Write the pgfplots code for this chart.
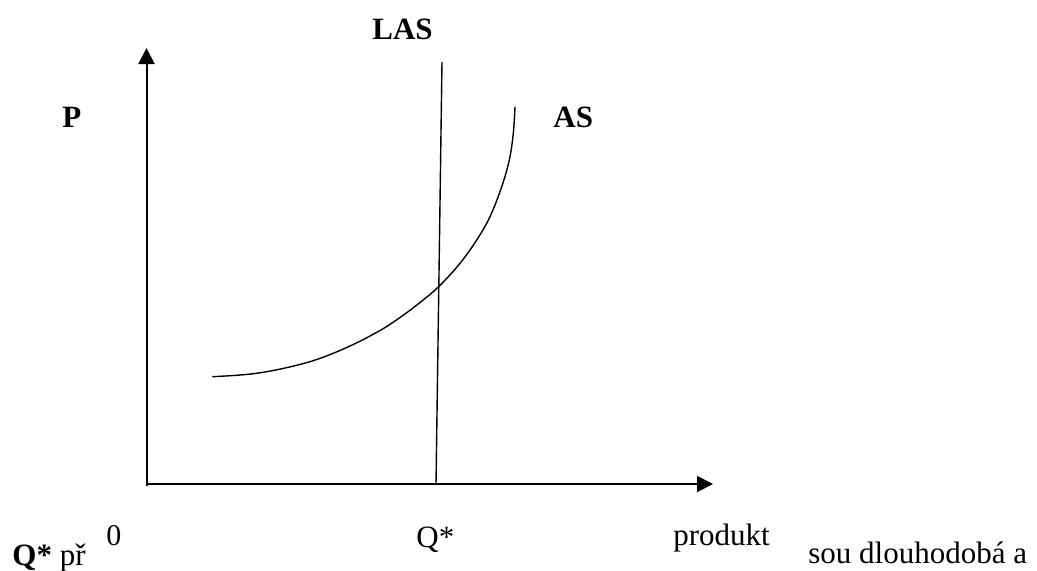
\documentclass[border=0pt]{standalone}
\usepackage{fontspec}
\setmainfont{Liberation Serif}
\usepackage{pgfplots}
\pgfplotsset{compat=1.18}
\usetikzlibrary{arrows.meta}
\begin{document}
\begin{tikzpicture}
\begin{axis}[
  scale only axis,
  width=518.5pt, height=285pt,
  xmin=0, xmax=1037, ymin=0, ymax=570,
  hide axis, clip=false,
]
% axes with arrows
\addplot[black, line width=1pt, -{Triangle[length=8pt,width=8pt]}] coordinates {(146.5,84) (146.5,522)};
\addplot[black, line width=1pt, -{Triangle[length=8pt,width=8pt]}] coordinates {(146,86) (713,86)};
% LAS
\addplot[black, line width=0.7pt] coordinates {(436,86) (442,508)};
% AS
\addplot[black, line width=0.7pt, smooth, tension=0.6] coordinates {
(212.3,193.3) (250,195.9) (283.3,201.6) (316.7,210.5) (350,224) (380,239.5)
(400,252.5) (420,267.5) (439.3,284) (460,306.7) (476.7,330) (490,353.3)
(501.7,383.3) (509.3,410) (513.3,436.7) (515,463.3)};
\coordinate (BL) at (axis cs:0,0);
\coordinate (TR) at (axis cs:1037,570);
\node[anchor=base west, inner sep=0pt, font=\fontsize{15.5}{18}\selectfont\bfseries] at (axis cs:372,531) {LAS};
\node[anchor=base west, inner sep=0pt, font=\fontsize{15.5}{18}\selectfont\bfseries] at (axis cs:62,443) {P};
\node[anchor=base west, inner sep=0pt, font=\fontsize{15.5}{18}\selectfont\bfseries] at (axis cs:553,443) {AS};
\node[anchor=base west, inner sep=0pt, font=\fontsize{15}{18}\selectfont] at (axis cs:106,25) {0};
\node[anchor=base west, inner sep=0pt, font=\fontsize{15.5}{18}\selectfont] at (axis cs:416,23) {Q*};
\node[anchor=base west, inner sep=0pt, font=\fontsize{15.5}{18}\selectfont] at (axis cs:673,25) {produkt};
\node[anchor=base west, inner sep=0pt, font=\fontsize{15.5}{18}\selectfont] at (axis cs:12,5) {\textbf{Q*} př};
\node[anchor=base west, inner sep=0pt, font=\fontsize{15.5}{18}\selectfont] at (axis cs:808,7) {sou dlouhodobá a};
\end{axis}
\pgfresetboundingbox
\path (BL) rectangle (TR);
\end{tikzpicture}
\end{document}
